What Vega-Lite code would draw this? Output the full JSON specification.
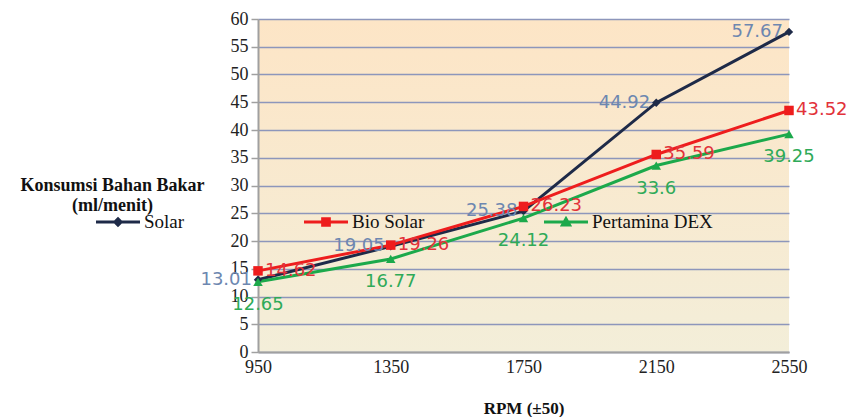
{
  "$schema": "https://vega.github.io/schema/vega-lite/v6.json",
  "width": 531,
  "height": 333,
  "autosize": {"type": "none"},
  "padding": {"left": 258, "top": 19, "right": 65, "bottom": 65},
  "background": "white",
  "config": {
    "view": {
      "stroke": null,
      "fill": {"gradient": "linear", "x1": 0, "y1": 1, "x2": 0, "y2": 0,
        "stops": [{"offset": 0, "color": "#f3eed9"}, {"offset": 1, "color": "#fde5c6"}]}
    }
  },
  "data": {
    "values": [
      {"rpm": 950, "series": "Solar", "value": 13.01},
      {"rpm": 1350, "series": "Solar", "value": 19.05},
      {"rpm": 1750, "series": "Solar", "value": 25.38},
      {"rpm": 2150, "series": "Solar", "value": 44.92},
      {"rpm": 2550, "series": "Solar", "value": 57.67},
      {"rpm": 950, "series": "Bio Solar", "value": 14.62},
      {"rpm": 1350, "series": "Bio Solar", "value": 19.26},
      {"rpm": 1750, "series": "Bio Solar", "value": 26.23},
      {"rpm": 2150, "series": "Bio Solar", "value": 35.59},
      {"rpm": 2550, "series": "Bio Solar", "value": 43.52},
      {"rpm": 950, "series": "Pertamina DEX", "value": 12.65},
      {"rpm": 1350, "series": "Pertamina DEX", "value": 16.77},
      {"rpm": 1750, "series": "Pertamina DEX", "value": 24.12},
      {"rpm": 2150, "series": "Pertamina DEX", "value": 33.6},
      {"rpm": 2550, "series": "Pertamina DEX", "value": 39.25}
    ]
  },
  "encoding": {
    "x": {
      "field": "rpm", "type": "quantitative",
      "scale": {"domain": [950, 2550], "nice": false, "zero": false},
      "axis": {
        "values": [950, 1350, 1750, 2150, 2550], "format": "d",
        "grid": false, "ticks": false,
        "domainColor": "#a0a0a0", "domainWidth": 2,
        "labelFont": "Liberation Serif", "labelFontSize": 18, "labelColor": "#222",
        "labelPadding": 6, "labelFlush": false,
        "title": "RPM (±50)", "titleFont": "Liberation Serif", "titleFontSize": 17,
        "titleFontWeight": "bold", "titleColor": "#111",
        "titleY": 56, "titleBaseline": "middle"
      }
    },
    "y": {
      "field": "value", "type": "quantitative",
      "scale": {"domain": [0, 60], "nice": false},
      "axis": {
        "values": [0, 5, 10, 15, 20, 25, 30, 35, 40, 45, 50, 55, 60],
        "grid": true, "gridColor": "#8d96bb", "gridWidth": 1.5,
        "tickColor": "#a0a0a0", "tickSize": 7, "tickWidth": 1.5,
        "domainColor": "#a0a0a0", "domainWidth": 2,
        "labelFont": "Liberation Serif", "labelFontSize": 18, "labelColor": "#222",
        "labelPadding": 3,
        "title": ["Konsumsi Bahan Bakar", "(ml/menit)"],
        "titleFont": "Liberation Serif", "titleFontSize": 18, "titleFontWeight": "bold",
        "titleColor": "#111", "titleAngle": 0, "titleAlign": "center",
        "titleBaseline": "middle", "titleLineHeight": 20,
        "titleX": -146, "titleY": 166
      }
    },
    "color": {
      "field": "series", "type": "nominal",
      "scale": {"domain": ["Solar", "Bio Solar", "Pertamina DEX"], "range": ["#1e2a48", "#ee1d1d", "#1ca94b"]},
      "legend": {
        "title": null, "orient": "none", "legendX": -162, "legendY": 181,
        "direction": "horizontal", "columns": 3, "columnPadding": 119,
        "symbolSize": 1936, "labelOffset": 4,
        "labelFont": "Liberation Serif", "labelFontSize": 19, "labelColor": "#111",
        "encode": {
          "symbols": {
            "update": {
              "shape": {"signal": "datum.value === 'Solar' ? 'M-1,-0.07H1V0.07H-1Z M0,-0.24L0.24,0L0,0.24L-0.24,0Z' : datum.value === 'Bio Solar' ? 'M-1,-0.07H1V0.07H-1Z M-0.22,-0.22H0.22V0.22H-0.22Z' : 'M-1,-0.07H1V0.07H-1Z M0,-0.28L0.28,0.2L-0.28,0.2Z'"},
              "fill": {"scale": "color", "field": "value"},
              "fillOpacity": {"value": 1},
              "strokeWidth": {"value": 0}
            }
          }
        }
      }
    }
  },
  "layer": [
    {
      "mark": {"type": "line", "strokeWidth": 3}
    },
    {
      "transform": [{"filter": "datum.series === 'Solar'"}],
      "mark": {"type": "point", "filled": true, "opacity": 1, "size": 70, "shape": "diamond"}
    },
    {
      "transform": [{"filter": "datum.series === 'Bio Solar'"}],
      "mark": {"type": "point", "filled": true, "opacity": 1, "size": 90, "shape": "square"}
    },
    {
      "transform": [{"filter": "datum.series === 'Pertamina DEX'"}],
      "mark": {"type": "point", "filled": true, "opacity": 1, "size": 90, "shape": "triangle-up"}
    },
    {
      "transform": [{"filter": "datum.series === 'Solar'"}],
      "mark": {"type": "text", "align": "right", "baseline": "middle", "dx": -6, "font": "DejaVu Sans", "fontSize": 18},
      "encoding": {"text": {"field": "value", "type": "nominal"}, "color": {"value": "#6d87b0"}}
    },
    {
      "transform": [{"filter": "datum.series === 'Bio Solar'"}],
      "mark": {"type": "text", "align": "left", "baseline": "middle", "dx": 7, "font": "DejaVu Sans", "fontSize": 18},
      "encoding": {"text": {"field": "value", "type": "nominal"}, "color": {"value": "#e2323a"}}
    },
    {
      "transform": [{"filter": "datum.series === 'Pertamina DEX'"}],
      "mark": {"type": "text", "align": "center", "baseline": "middle", "dy": 23, "font": "DejaVu Sans", "fontSize": 18},
      "encoding": {"text": {"field": "value", "type": "nominal"}, "color": {"value": "#2faa58"}}
    }
  ]
}
